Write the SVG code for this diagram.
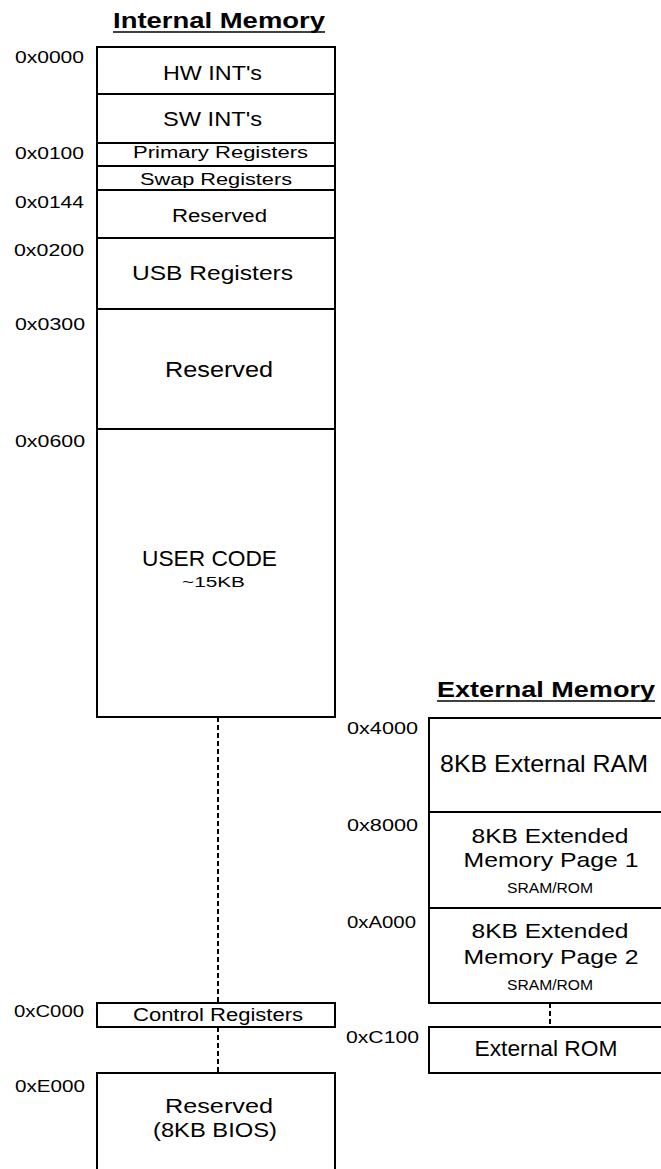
<svg xmlns="http://www.w3.org/2000/svg" width="661" height="1169" viewBox="0 0 661 1169">
<style>
text{font-family:"Liberation Sans",Arial,sans-serif;fill:#000}
.box{fill:#fff;stroke:#000;stroke-width:2}
.div{stroke:#000;stroke-width:2}
.addr{font-size:17px}
.c{text-anchor:middle}
.title{font-size:22px;font-weight:bold}
.dash{stroke:#000;stroke-width:2;stroke-dasharray:5 3;fill:none}
</style>
<rect width="661" height="1169" fill="#fff"/>
<g id="titles">
<text class="title c" x="219" y="28" textLength="212" lengthAdjust="spacingAndGlyphs">Internal Memory</text>
<line x1="113" y1="32" x2="325" y2="32" stroke="#000" stroke-width="1.5"/>
<text class="title c" x="546" y="697" textLength="218" lengthAdjust="spacingAndGlyphs">External Memory</text>
<line x1="437" y1="701" x2="655" y2="701" stroke="#000" stroke-width="1.5"/>
</g>
<g id="connectors">
<line class="dash" x1="218" y1="717" x2="218" y2="1003"/>
<line class="dash" x1="218" y1="1027" x2="218" y2="1073"/>
<line class="dash" x1="550" y1="1003" x2="550" y2="1027"/>
</g>
<g id="internal-memory">
<rect class="box" x="97" y="47" width="238" height="670"/>
<line class="div" x1="97" y1="94" x2="335" y2="94"/>
<line class="div" x1="97" y1="143" x2="335" y2="143"/>
<line class="div" x1="97" y1="166" x2="335" y2="166"/>
<line class="div" x1="97" y1="190" x2="335" y2="190"/>
<line class="div" x1="97" y1="238" x2="335" y2="238"/>
<line class="div" x1="97" y1="309" x2="335" y2="309"/>
<line class="div" x1="97" y1="429" x2="335" y2="429"/>
</g>
<g id="hw-ints"><text class="c" x="212.5" y="80" font-size="21" textLength="99" lengthAdjust="spacingAndGlyphs">HW INT's</text></g>
<g id="sw-ints"><text class="c" x="212.5" y="126" font-size="21" textLength="99" lengthAdjust="spacingAndGlyphs">SW INT's</text></g>
<g id="primary-registers"><text class="c" x="220.5" y="158" font-size="16" textLength="175" lengthAdjust="spacingAndGlyphs">Primary  Registers</text></g>
<g id="swap-registers"><text class="c" x="216" y="185" font-size="16" textLength="152" lengthAdjust="spacingAndGlyphs">Swap Registers</text></g>
<g id="reserved-1"><text class="c" x="219.5" y="222" font-size="18" textLength="95" lengthAdjust="spacingAndGlyphs">Reserved</text></g>
<g id="usb-registers"><text class="c" x="212.5" y="280" font-size="21" textLength="161" lengthAdjust="spacingAndGlyphs">USB Registers</text></g>
<g id="reserved-2"><text class="c" x="219" y="377" font-size="22" textLength="108" lengthAdjust="spacingAndGlyphs">Reserved</text></g>
<g id="user-code">
<text class="c" x="209.5" y="566" font-size="22" textLength="135" lengthAdjust="spacingAndGlyphs">USER CODE</text>
<text class="c" x="213.5" y="587" font-size="15" textLength="63" lengthAdjust="spacingAndGlyphs">~15KB</text>
</g>
<g id="control-registers">
<rect class="box" x="97" y="1003" width="238" height="24"/>
<text class="c" x="218" y="1021" font-size="18" textLength="170" lengthAdjust="spacingAndGlyphs">Control Registers</text>
</g>
<g id="bios">
<rect class="box" x="97" y="1073" width="238" height="110"/>
<text class="c" x="219" y="1113" font-size="21" textLength="108" lengthAdjust="spacingAndGlyphs">Reserved</text>
<text class="c" x="215" y="1137" font-size="21" textLength="124" lengthAdjust="spacingAndGlyphs">(8KB BIOS)</text>
</g>
<g id="internal-addresses">
<text class="addr" x="15" y="63" textLength="69" lengthAdjust="spacingAndGlyphs">0x0000</text>
<text class="addr" x="15" y="159" textLength="69" lengthAdjust="spacingAndGlyphs">0x0100</text>
<text class="addr" x="15" y="208" textLength="69" lengthAdjust="spacingAndGlyphs">0x0144</text>
<text class="addr" x="14" y="256" textLength="70" lengthAdjust="spacingAndGlyphs">0x0200</text>
<text class="addr" x="15" y="330" textLength="70" lengthAdjust="spacingAndGlyphs">0x0300</text>
<text class="addr" x="15" y="447" textLength="70" lengthAdjust="spacingAndGlyphs">0x0600</text>
<text class="addr" x="14" y="1017" textLength="70" lengthAdjust="spacingAndGlyphs">0xC000</text>
<text class="addr" x="15" y="1092" textLength="70" lengthAdjust="spacingAndGlyphs">0xE000</text>
</g>
<g id="external-memory">
<rect class="box" x="429" y="718" width="240" height="285"/>
<line class="div" x1="429" y1="812" x2="669" y2="812"/>
<line class="div" x1="429" y1="908" x2="669" y2="908"/>
</g>
<g id="external-ram"><text class="c" x="544" y="772" font-size="24" textLength="208" lengthAdjust="spacingAndGlyphs">8KB External RAM</text></g>
<g id="ext-page-1">
<text class="c" x="550" y="843" font-size="21" textLength="157" lengthAdjust="spacingAndGlyphs">8KB Extended</text>
<text class="c" x="551" y="867" font-size="21" textLength="175" lengthAdjust="spacingAndGlyphs">Memory Page 1</text>
<text class="c" x="550" y="893" font-size="14" textLength="86" lengthAdjust="spacingAndGlyphs">SRAM/ROM</text>
</g>
<g id="ext-page-2">
<text class="c" x="550" y="938" font-size="21" textLength="157" lengthAdjust="spacingAndGlyphs">8KB Extended</text>
<text class="c" x="551" y="964" font-size="21" textLength="175" lengthAdjust="spacingAndGlyphs">Memory Page 2</text>
<text class="c" x="550" y="990" font-size="14" textLength="86" lengthAdjust="spacingAndGlyphs">SRAM/ROM</text>
</g>
<g id="external-rom">
<rect class="box" x="429" y="1027" width="240" height="46"/>
<text class="c" x="546" y="1056" font-size="22" textLength="143" lengthAdjust="spacingAndGlyphs">External ROM</text>
</g>
<g id="external-addresses">
<text class="addr" x="347" y="734" textLength="71" lengthAdjust="spacingAndGlyphs">0x4000</text>
<text class="addr" x="347" y="831" textLength="71" lengthAdjust="spacingAndGlyphs">0x8000</text>
<text class="addr" x="347" y="928" textLength="69" lengthAdjust="spacingAndGlyphs">0xA000</text>
<text class="addr" x="346" y="1043" textLength="73" lengthAdjust="spacingAndGlyphs">0xC100</text>
</g>
</svg>
